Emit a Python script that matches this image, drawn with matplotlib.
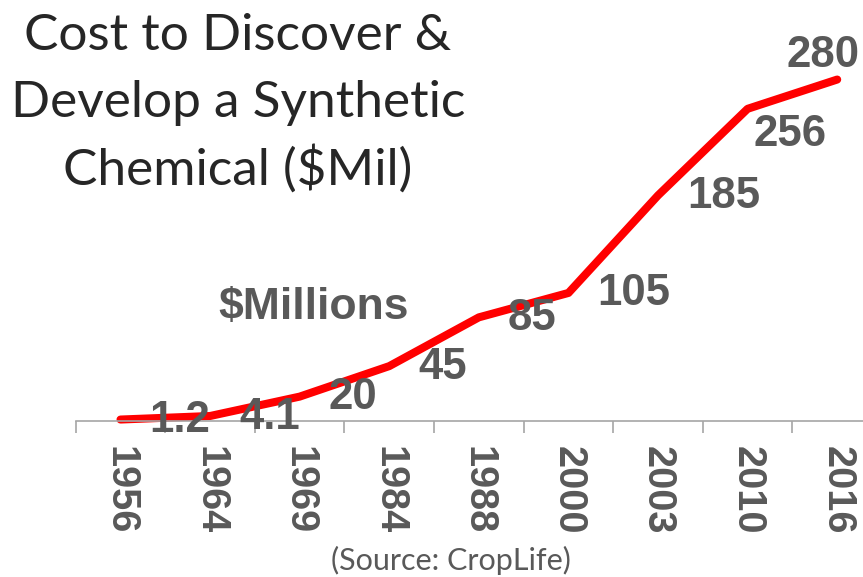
import matplotlib
matplotlib.use("Agg")
import matplotlib.pyplot as plt
from matplotlib.ticker import FixedLocator, NullFormatter

# ---- data ----
years = ["1956", "1964", "1969", "1984", "1988", "2000", "2003", "2010", "2016"]
cost_mil = [1.2, 4.1, 20, 45, 85, 105, 185, 256, 280]
value_labels = ["1.2", "4.1", "20", "45", "85", "105", "185", "256", "280"]
title_lines = ["Cost to Discover &", "Develop a Synthetic", "Chemical ($Mil)"]
unit_label = "$Millions"
source_text = "(Source: CropLife)"

W, H = 863, 577
fig = plt.figure(figsize=(W / 100, H / 100), dpi=100)
fig.patch.set_facecolor("white")

# axes: left edge at 75.7px, right edge 882px (beyond figure), x-axis at y=421px
ax_left = 75.7 / W
ax_width = (882 - 75.7) / W
ax_bottom = 1 - 421 / H
ax_top_px = 20
ax_height = (421 - ax_top_px) / H
ax = fig.add_axes([ax_left, ax_bottom, ax_width, ax_height])
ax.set_facecolor("none")

x = list(range(len(years)))
ax.plot(x, cost_mil, color="#FF0000", lw=5.8, solid_capstyle="round",
        solid_joinstyle="round", zorder=2, clip_on=False)

ax.set_xlim(-0.5, len(years) - 0.5)
ax.set_ylim(0, (421 - ax_top_px) / 1.2195)

for s in ["top", "right", "left"]:
    ax.spines[s].set_visible(False)
ax.spines["bottom"].set_color("#A6A6A6")
ax.spines["bottom"].set_linewidth(1.2)
ax.yaxis.set_visible(False)

ax.xaxis.set_major_locator(FixedLocator([i - 0.5 for i in range(len(years) + 1)]))
ax.xaxis.set_major_formatter(NullFormatter())
ax.xaxis.set_minor_locator(FixedLocator(x))
ax.set_xticklabels(years, minor=True)
ax.tick_params(axis="x", which="major", length=8.6, width=1.2, color="#A6A6A6",
               direction="out")
ax.tick_params(axis="x", which="minor", length=0, pad=18, labelsize=28.5,
               labelcolor="#595959", labelrotation=-90)
for t in ax.get_xticklabels(minor=True):
    t.set_fontfamily("Liberation Sans")
    t.set_fontweight("bold")

# data labels
offsets = [(29, -1)] * 7 + [(6, -26), (-51, 24)]
for xi, yi, lab, off in zip(x, cost_mil, value_labels, offsets):
    ax.annotate(lab, (xi, yi), xytext=off, textcoords="offset pixels",
                ha="left", va="center", fontsize=31.5, fontweight="bold",
                family="Liberation Sans", color="#595959", zorder=5,
                annotation_clip=False)

# "$Millions"
fig.text(218 / W, 1 - 319.5 / H, unit_label, ha="left", va="baseline",
         fontsize=32, fontweight="bold", family="Liberation Sans",
         color="#595959")

# title
baselines = [50, 117, 185]
for line, b in zip(title_lines, baselines):
    fig.text(238 / W, 1 - b / H, line, ha="center", va="baseline",
             fontsize=37, family="Lato", color="#262626")

# source
fig.text(451 / W, 1 - 570 / H, source_text, ha="center", va="baseline",
         fontsize=22, family="Lato", color="#595959")

fig.savefig("out.png", dpi=100)
